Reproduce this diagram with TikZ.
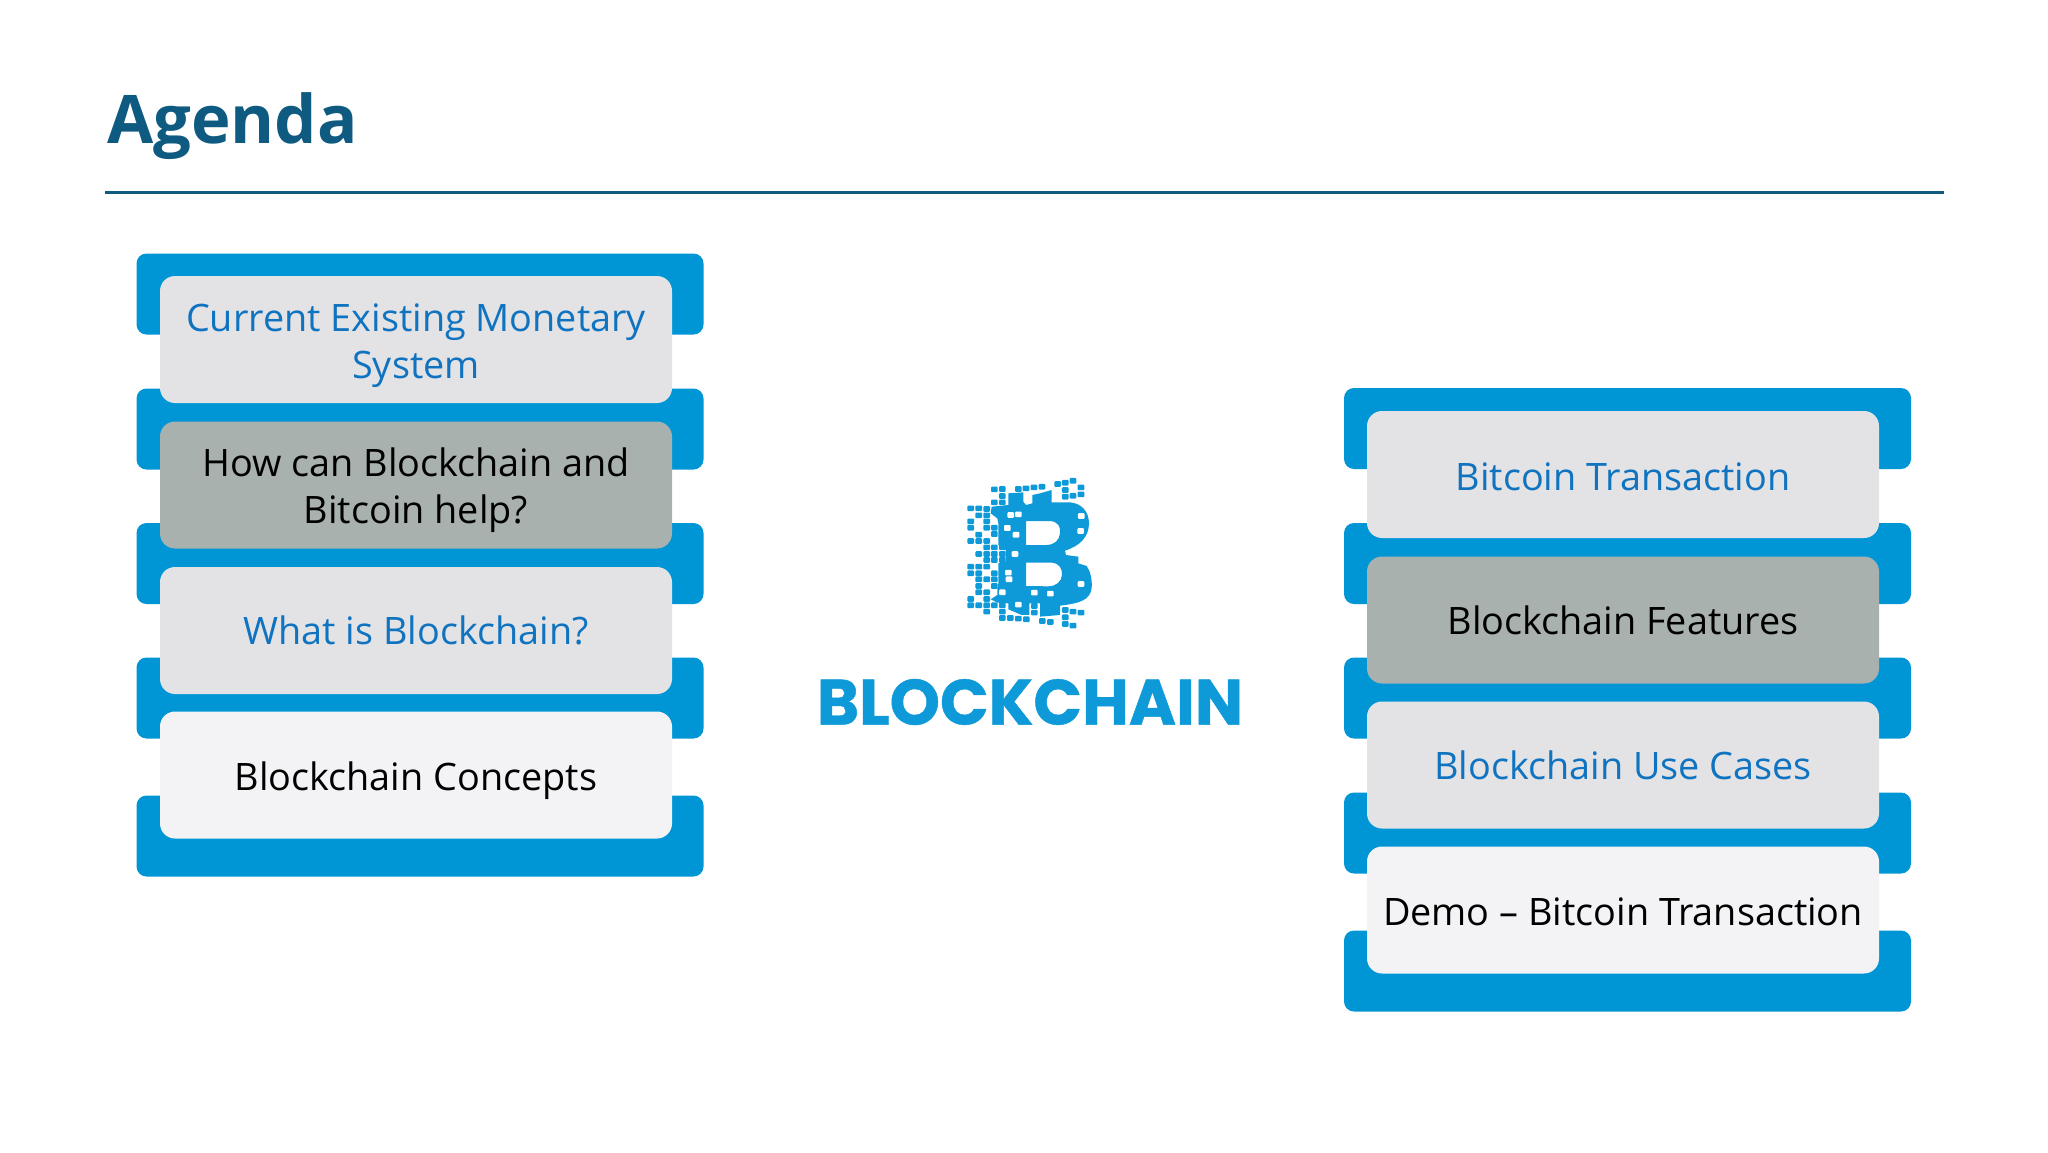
\documentclass[tikz,border=0pt]{standalone}
\usepackage{fontspec}
\setmainfont{Open Sans}
\newfontfamily\logofont[BoldFeatures={FakeBold=0.7}]{Poppins}
\definecolor{bandblue}{HTML}{0096D6}
\definecolor{cardgrey}{HTML}{E3E3E6}
\definecolor{carddark}{HTML}{A9B1AF}
\definecolor{cardlight}{HTML}{F3F3F5}
\definecolor{textblue}{HTML}{0F73C0}
\definecolor{titleblue}{HTML}{0F5A80}
\definecolor{logoblue}{HTML}{0E9AD8}
\tikzset{
  band/.style={fill=bandblue,rounded corners=10pt,minimum width=567pt,minimum height=81pt,inner sep=0pt,outer sep=0pt},
  card/.style={rounded corners=15pt,minimum width=512pt,minimum height=127pt,inner sep=0pt,outer sep=0pt},
  cardA/.style={card,fill=cardgrey},
  cardB/.style={card,fill=carddark},
  cardC/.style={card,fill=cardlight},
  lbl/.style={inner sep=0pt,outer sep=0pt,align=center,font=\fontsize{37.8}{47.5}\selectfont},
  lblblue/.style={lbl,text=textblue},
  lblblack/.style={lbl,text=black},
  px/.style={fill=logoblue,rounded corners=1pt},
  pw/.style={fill=white,rounded corners=1pt},
}
\begin{document}
\begin{tikzpicture}[x=1pt,y=-1pt]
\useasboundingbox (0,0) rectangle (2048,1152);
\node[anchor=west,text=titleblue,inner sep=0pt,font=\fontsize{67}{80}\selectfont\bfseries] (title) at (107,126) {Agenda};
\coordinate (ruleL) at (105,192);
\coordinate (ruleR) at (1944,192);
\draw[titleblue,line width=3pt] (ruleL) -- (ruleR);
% left bands
\node[band] (lb1) at (420,294) {};
\node[band] (lb2) at (420,429) {};
\node[band] (lb3) at (420,563.5) {};
\node[band] (lb4) at (420,698) {};
\node[band] (lb5) at (420,836) {};
% left cards
\node[cardA] (l1) at (416,339.5) {};
\node[cardB] (l2) at (416,485) {};
\node[cardA] (l3) at (416,630.5) {};
\node[cardC] (l4) at (416,775) {};
\node[lblblue] (l1t) at ([yshift=-6pt]l1.center) {Current Existing Monetary\\System};
\node[lblblack] (l2t) at ([yshift=-5pt]l2.center) {How can Blockchain and\\Bitcoin help?};
\node[lblblue] (l3t) at (l3.center) {What is Blockchain?};
\node[lblblack] (l4t) at ([yshift=-6pt]l4.center) {Blockchain Concepts};
% right bands
\node[band] (rb1) at (1627.5,428.5) {};
\node[band] (rb2) at (1627.5,563.5) {};
\node[band] (rb3) at (1627.5,698) {};
\node[band] (rb4) at (1627.5,833) {};
\node[band] (rb5) at (1627.5,971) {};
% right cards
\node[cardA] (r1) at (1623,474.5) {};
\node[cardB] (r2) at (1623,620) {};
\node[cardA] (r3) at (1623,765) {};
\node[cardC] (r4) at (1623,910) {};
\node[lblblue] (r1t) at ([yshift=-2pt]r1.center) {Bitcoin Transaction};
\node[lblblack] (r2t) at (r2.center) {Blockchain Features};
\node[lblblue] (r3t) at (r3.center) {Blockchain Use Cases};
\node[lblblack] (r4t) at ([yshift=-1.5pt]r4.center) {Demo -- Bitcoin Transaction};
% wordmark
\node[text=logoblue,inner sep=0pt,font=\fontsize{64}{64}\logofont\bfseries] (word) at (1030,702) {BLOCKCHAIN};
% logo
\begin{scope}[shift={(940,460)},x=0.3333pt,y=-0.3333pt]
\fill[logoblue,even odd rule]
  (155,140) -- (205,135) -- (205,100) -- (250,97) -- (250,125) -- (258,135) -- (277,130) -- (277,105) -- (300,100) -- (335,90) -- (335,127) -- (390,127)
  .. controls (425,130) and (447,155) .. (447,190)
  .. controls (447,230) and (420,258) .. (375,272)
  -- (378,285) -- (415,290) -- (415,310) -- (440,318)
  .. controls (452,335) and (457,360) .. (455,385)
  .. controls (450,420) and (420,430) .. (360,437)
  -- (360,465) -- (300,470) -- (300,430) -- (268,430) -- (268,465) -- (245,465) -- (205,448) -- (205,430) -- (172,428) -- (152,418) -- (172,405) -- (172,385) -- (175,370) -- (175,310) -- (197,305) -- (197,270) -- (175,255) -- (175,190) -- (172,175) -- (152,160) -- cycle
  (258,183) -- (330,183) .. controls (355,185) and (362,200) .. (360,220) .. controls (358,240) and (345,254) .. (320,255) -- (258,255) -- cycle
  (258,308) -- (335,308) .. controls (358,310) and (367,325) .. (366,345) .. controls (364,365) and (350,378) .. (325,379) -- (258,378) -- cycle;
\foreach \x/\y in {212/165,235/163,202/204,228/224,225/282,205/338,207/358,187/397,283/398,331/401,235/434,424/168,422/213,423/372}
  \fill[pw] (\x-10,\y-8.5) rectangle (\x+10,\y+8.5);
\foreach \x/\y in {163/88,187/87,187/108,163/127,187/127,235/87,258/85,282/82,306/80,353/72,376/68,399/62,423/82,376/90,376/110,399/107,423/103,
  92/145,116/145,140/147,116/166,140/166,92/184,92/203,140/184,140/203,163/203,163/222,116/224,92/243,116/243,140/243,140/262,163/262,187/262,
  116/282,140/282,163/282,187/282,140/300,163/300,187/300,92/320,116/320,140/320,92/340,116/340,163/340,116/358,140/358,163/358,116/378,116/397,140/397,163/378,
  92/417,140/417,92/436,116/436,140/436,163/436,140/455,187/436,187/455,187/474,211/474,235/476,259/478,283/438,283/458,307/483,331/486,
  376/450,399/455,423/458,376/472,376/492,399/497}
  \fill[px] (\x-10,\y-8.5) rectangle (\x+10,\y+8.5);
\end{scope}
\end{tikzpicture}
\end{document}
